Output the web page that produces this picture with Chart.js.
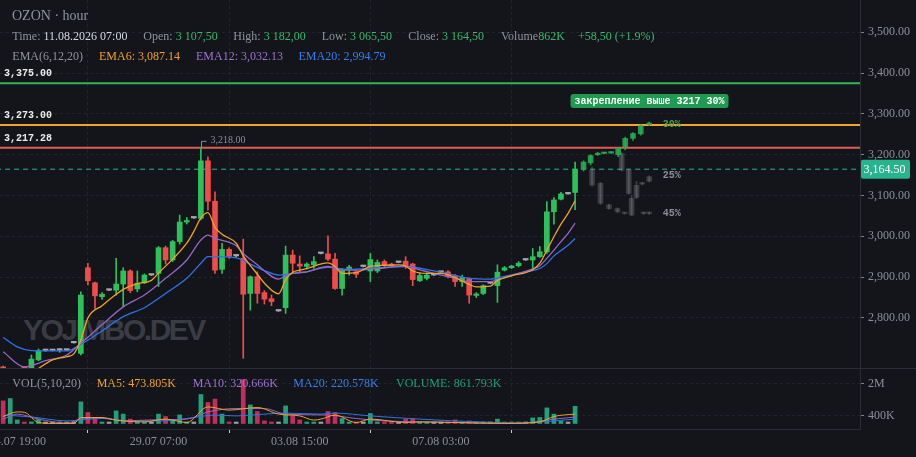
<!DOCTYPE html>
<html><head><meta charset="utf-8">
<script src="https://cdn.jsdelivr.net/npm/chart.js@4.4.1/dist/chart.umd.min.js"></script>
<style>
html,body{margin:0;padding:0;background:#14151a;width:916px;height:457px;overflow:hidden;}
#wrap{position:relative;width:916px;height:457px;}
#wm{position:absolute;left:23px;top:314.6px;font-family:"Liberation Sans",Arial,sans-serif;font-weight:bold;font-size:30px;line-height:30px;color:#3a3c44;letter-spacing:-2.5px;z-index:0;white-space:pre;}
canvas{position:absolute;left:0;top:0;z-index:1;}
.t{position:absolute;white-space:pre;font-family:"Liberation Serif","Times New Roman",serif;font-size:12px;line-height:12px;color:#8f939c;z-index:2;}
.g{color:#36b96e}.w{color:#d5d8df}.o{color:#f0a224}.p{color:#9f72d2}.b{color:#3a7ee8}.v{color:#1f9f75}
</style></head>
<body><div id="wrap">
<div id="wm">YOJIMBO.DEV</div>
<canvas id="c" width="916" height="457"></canvas>
<div class="t" style="left:12px;top:9.3px;font-size:14px;line-height:14px;">OZON · hour</div>
<div class="t" style="left:12.3px;top:30.3px;">Time: <span class="w">11.08.2026 07:00</span></div>
<div class="t" style="left:143.3px;top:30.3px;">Open: <span class="g">3 107,50</span></div>
<div class="t" style="left:233.3px;top:30.3px;">High: <span class="g">3 182,00</span></div>
<div class="t" style="left:321.7px;top:30.3px;">Low: <span class="g">3 065,50</span></div>
<div class="t" style="left:408.3px;top:30.3px;">Close: <span class="g">3 164,50</span></div>
<div class="t" style="left:501px;top:30.3px;">Volume<span class="g">862K</span></div>
<div class="t g" style="left:578px;top:30.3px;">+58,50 (+1.9%)</div>
<div class="t" style="left:12.3px;top:50.4px;">EMA(6,12,20)</div>
<div class="t o" style="left:99px;top:50.4px;">EMA6: 3,087.14</div>
<div class="t p" style="left:196px;top:50.4px;">EMA12: 3,032.13</div>
<div class="t b" style="left:298.5px;top:50.4px;">EMA20: 2,994.79</div>
<div class="t" style="left:12.3px;top:377px;">VOL(5,10,20)</div>
<div class="t o" style="left:96.7px;top:377px;">MA5: 473.805K</div>
<div class="t p" style="left:192.7px;top:377px;">MA10: 320.666K</div>
<div class="t b" style="left:293.3px;top:377px;">MA20: 220.578K</div>
<div class="t v" style="left:396px;top:377px;">VOLUME: 861.793K</div>
</div>
<script>
// ---------- data ----------
const tickIndex  = [2, 22, 42, 62];
const tickLabels = ['24.07 19:00', '29.07 07:00', '03.08 15:00', '07.08 03:00'];
const priceTicks = [2800, 2900, 3000, 3100, 3200, 3300, 3400, 3500];
const volTicks = [400000, 2000000];
const volTickLabels = ['400K', '2M'];

const opens = [2680,2640,2660,2666,2672,2697,2720,2720,2721,2721,2739,2713,2923,2886,2852,2868,2868,2883,2915,2871,
  2886,2905,2909,2972,2942,2987,3035,3045,3044,3185,3086,2919,2968,2952,2946,2860,2901,2862,2847,2817,
  2825,2954,2932,2926,2930,2958,2957,2944,2872,2921,2913,2926,2915,2915,2938,2932,2936,2939,2932,2891,
  2897,2905,2912,2913,2903,2889,2897,2855,2860,2885,2879,2917,2923,2928,2942,2942,2950,2962,3060,3091,
  3104,3107.5];
const highs = [2682,2668,2668,2668,2709,2724,2722,2722,2724,2722,2740,2864,2934,2888,2862,2869,2946,2923,2918,2915,
  2908,2906,2975,2976,2990,3052,3046,3046,3218,3195,3109,2983,2972,2954,2993,2903,2913,2867,2856,2818,
  2976,2966,2952,2935,2950,2959,3001,2958,2921,2929,2916,2927,2958,2942,2942,2934,2937,2950,2934,2910,
  2910,2906,2913,2916,2906,2905,2898,2862,2881,2886,2930,2926,2929,2938,2943,2970,2975,3085,3095,3108,
  3106,3182];
const lows = [2650,2632,2655,2660,2668,2695,2718,2719,2716,2720,2738,2709,2881,2823,2845,2867,2856,2827,2862,2864,
  2884,2904,2877,2932,2938,2981,3030,3044,3040,3064,2909,2909,2946,2950,2701,2819,2836,2834,2830,2816,
  2811,2911,2911,2920,2921,2957,2940,2870,2856,2905,2899,2925,2889,2911,2925,2926,2935,2921,2879,2889,
  2893,2904,2911,2898,2877,2877,2836,2850,2857,2884,2838,2915,2921,2925,2941,2917,2948,2958,3030,3089,
  3103,3065.5];
const closes = [2660,2662,2664,2663,2699,2720,2720,2720,2721,2721,2739,2856,2891,2854,2858,2868,2883,2915,2867,2885,
  2905,2905,2972,2942,2987,3035,3038,3045,3185,3086,2917,2968,2951,2952,2858,2901,2860,2846,2840,2817,
  2954,2934,2927,2932,2938,2958,2944,2872,2917,2923,2907,2926,2943,2936,2930,2928,2936,2927,2894,2904,
  2905,2905,2912,2902,2889,2899,2856,2857,2879,2885,2912,2923,2927,2934,2942,2950,2962,3060,3089,3104,
  3104,3164.5];
// volume, thousands
const volumes = [1130,1250,180,30,80,220,10,10,10,10,10,1080,550,300,50,10,630,470,220,100,
  50,10,470,350,180,430,20,10,1450,1050,1220,470,50,10,2200,930,600,130,30,10,
  880,380,180,50,50,10,600,550,250,30,20,10,500,80,50,20,10,220,250,80,
  10,10,10,80,180,50,130,20,20,10,220,20,20,20,10,280,300,780,470,130,
  20,862];

// indicator lines: [candle index, value]
const ema6 = [[0,2640],[3,2650],[5,2676],[7,2697],[9,2705],[10,2712],[11,2746],[12,2800],[14,2830],[16,2858],[17,2870],
  [19,2884],[21,2892],[22,2910],[24,2944],[26,2983],[27,3012],[28,3045],[29,3058],[30,3022],[31,3005],[33,2983],
  [34,2952],[36,2907],[37,2885],[39,2859],[40,2893],[41,2912],[42,2917],[43,2921],[46,2935],[47,2926],[48,2909],
  [50,2911],[52,2926],[54,2929],[56,2930],[57,2927],[58,2915],[60,2909],[62,2909],[64,2899],[66,2882],[67,2876],
  [69,2878],[70,2892],[72,2903],[75,2918],[76,2934],[77,2966],[78,2999],[79,3030],[80,3056],[81,3087.14]];
const ema12 = [[0,2717],[3,2680],[6,2695],[9,2709],[11,2738],[14,2783],[17,2827],[20,2856],[23,2897],[26,2942],[28,2991],
  [29,3003],[30,2995],[33,2977],[34,2958],[36,2930],[37,2915],[39,2895],[40,2903],[41,2909],[43,2913],[46,2926],
  [48,2917],[50,2917],[53,2921],[57,2927],[59,2918],[61,2909],[64,2897],[66,2889],[69,2889],[71,2899],[73,2909],
  [75,2920],[76,2928],[77,2946],[78,2966],[79,2987],[80,3007],[81,3032.13]];
const ema20 = [[0,2752],[2,2729],[4,2720],[9,2719],[11,2735],[14,2768],[17,2803],[20,2825],[23,2860],[26,2897],[28,2934],
  [29,2950],[30,2950],[33,2947],[35,2932],[37,2916],[39,2905],[41,2909],[43,2913],[46,2924],[49,2919],[53,2923],
  [57,2926],[61,2915],[64,2904],[66,2897],[69,2895],[71,2902],[74,2913],[76,2921],[77,2933],[78,2952],[79,2965],
  [80,2978],[81,2994.79]];
const volMa5 = [[0,350],[2,580],[3,560],[5,50],[7,5],[10,5],[11,300],[14,300],[16,170],[20,80],[23,220],[26,50],
  [29,830],[32,670],[36,800],[39,470],[42,380],[44,170],[45,220],[47,420],[50,50],[52,220],[57,50],[59,80],[64,50],
  [71,5],[76,80],[78,350],[81,473.805]];
const volMa10 = [[0,220],[2,470],[5,220],[9,20],[11,220],[14,270],[17,130],[21,180],[26,220],[29,580],[33,750],[37,750],
  [40,470],[46,420],[50,250],[54,130],[59,80],[68,20],[73,5],[78,220],[81,320.666]];
const volMa20 = [[0,420],[4,330],[9,130],[14,250],[18,130],[23,130],[26,250],[30,420],[33,380],[35,420],[40,520],[45,470],
  [47,520],[52,380],[59,220],[66,100],[73,30],[78,130],[81,220.578]];

// scenario projections drawn after the last candle
const projUpX = [82.2,83.2,84.2,85.1,86.1,87.1,88.1,89.2,90.3,91.5];
const projUpO = [3164.5,3180,3200,3203,3204,3200,3218,3240,3251,3274];
const projUpH = [3185,3200,3206,3206,3207,3218,3243,3254,3273,3280];
const projUpL = [3160,3175,3198,3202,3203,3195,3212,3235,3248,3271];
const projUpC = [3182,3198,3203,3204,3205,3215,3240,3252,3271,3276];
const projDnX = [83.4,84.6,85.8,87.0,87.6,88.0,88.6,89.0,89.7,90.5,90.7,91.5,91.5];
const projDnO = [3162,3130,3077,3068,3203,3056,3162,3093,3095,3128,3056,3135,3056];
const projDnH = [3170,3132,3079,3070,3206,3058,3165,3100,3135,3132,3059,3148,3059];
const projDnL = [3122,3078,3066,3058,3160,3054,3103,3050,3092,3126,3053,3133,3053];
const projDnC = [3126,3081,3068,3060,3162,3056,3105,3052,3125,3131,3056,3146,3056];

const levelValues = [3375, 3273, 3217.28];
const levelLabels = ['3,375.00', '3,273.00', '3,217.28'];
const levelColors = ['#35b35a', '#f2a52a', '#df5b5b'];
const lastPrice = 3164.5;
const scenarioLabels = ['30%', '25%', '45%'];
const scenarioPrices = [3273, 3150, 3055];
const boxText = 'закрепление выше 3217 30%';
const peakIndex = 28;

// ---------- styling ----------
const GREEN = '#2cc15a', RED = '#ef4d4d', DOJI = '#a4a8b0';
const VGREEN = '#23a07a', VRED = '#c22e5c', VDOJI = '#9a9da5';
const AXIS = '#8b8f99', FONT = '"Liberation Serif","Times New Roman",serif';

const idx = opens.map((_, i) => i);
const dir = i => closes[i] > opens[i] ? 1 : (closes[i] < opens[i] ? -1 : 0);
const candleColor = i => dir(i) > 0 ? GREEN : (dir(i) < 0 ? RED : DOJI);
const volColor = i => dir(i) > 0 ? VGREEN : (dir(i) < 0 ? VRED : VDOJI);
const pts = arr => arr.map(([x, y]) => ({x, y}));

const datasets = [];
levelValues.forEach((v, k) => datasets.push({
  type: 'line', data: [{x: -1, y: v}, {x: 130, y: v}], borderColor: levelColors[k], borderWidth: 2,
  pointRadius: 0, yAxisID: 'y', order: 30
}));
datasets.push({type: 'line', data: [{x: -1, y: lastPrice}, {x: 130, y: lastPrice}], borderColor: '#2ab592',
  borderWidth: 1, borderDash: [5, 4], pointRadius: 0, yAxisID: 'y', order: 29});

// gray scenario
datasets.push({type: 'bar', data: projDnX.map((x, k) => ({x, y: [projDnL[k], projDnH[k]]})),
  backgroundColor: 'rgba(150,152,160,0.30)', barThickness: 1, grouped: false, yAxisID: 'y', order: 21});
datasets.push({type: 'bar', data: projDnX.map((x, k) => ({x, y: [projDnO[k], projDnC[k]]})),
  backgroundColor: 'rgba(150,152,160,0.30)', barThickness: 5, minBarLength: 1.5, grouped: false, yAxisID: 'y', order: 20});
// green scenario
datasets.push({type: 'bar', data: projUpX.map((x, k) => ({x, y: [projUpL[k], projUpH[k]]})),
  backgroundColor: 'rgba(40,175,85,0.85)', barThickness: 1, grouped: false, yAxisID: 'y', order: 19});
datasets.push({type: 'bar', data: projUpX.map((x, k) => ({x, y: [projUpO[k], projUpC[k]]})),
  backgroundColor: 'rgba(40,175,85,0.85)', barThickness: 5, minBarLength: 1.5, grouped: false, yAxisID: 'y', order: 18});

// candles
datasets.push({type: 'bar', data: idx.map(i => ({x: i, y: [lows[i], highs[i]]})),
  backgroundColor: c => candleColor(c.dataIndex), barThickness: 1, grouped: false, yAxisID: 'y', order: 12});
datasets.push({type: 'bar', data: idx.map(i => ({x: i, y: [opens[i], closes[i]]})),
  backgroundColor: c => candleColor(c.dataIndex), barThickness: 5, minBarLength: 1.5, grouped: false, yAxisID: 'y', order: 11});

// EMAs
[[ema6, '#f0a224'], [ema12, '#9466c8'], [ema20, '#2f73e6']].forEach(([d, col]) => datasets.push({
  type: 'line', data: pts(d), borderColor: col, borderWidth: 1.3, pointRadius: 0,
  cubicInterpolationMode: 'monotone', yAxisID: 'y', order: 5
}));

// volume
datasets.push({type: 'bar', data: idx.map(i => ({x: i, y: volumes[i] * 1000})),
  backgroundColor: c => volColor(c.dataIndex), barThickness: 4, minBarLength: 1.5, grouped: false, yAxisID: 'yv', order: 13});
[[volMa5, '#f0a224'], [volMa10, '#9466c8'], [volMa20, '#2f73e6']].forEach(([d, col]) => datasets.push({
  type: 'line', data: d.map(([x, y]) => ({x, y: y * 1000})), borderColor: col, borderWidth: 1, pointRadius: 0,
  cubicInterpolationMode: 'monotone', yAxisID: 'yv', order: 4
}));

// ---------- plugins ----------
const paneClip = {
  id: 'paneClip',
  beforeDatasetDraw(chart, args) {
    const s = args.meta.yScale, a = chart.chartArea, ctx = chart.ctx;
    ctx.save(); ctx.beginPath(); ctx.rect(a.left, s.top, a.right - a.left, s.bottom - s.top); ctx.clip();
  },
  afterDatasetDraw(chart) { chart.ctx.restore(); }
};

const overlay = {
  id: 'overlay',
  afterDraw(chart) {
    const {ctx, chartArea: a, scales: {x, y, yv}} = chart;
    ctx.save();
    // pane separator
    ctx.strokeStyle = '#2a2d35'; ctx.lineWidth = 1;
    ctx.beginPath(); ctx.moveTo(0, Math.round(yv.top) + 0.5); ctx.lineTo(chart.width, Math.round(yv.top) + 0.5); ctx.stroke();
    // level labels
    ctx.font = 'bold 10px "Liberation Mono", monospace';
    ctx.fillStyle = '#ececec'; ctx.textBaseline = 'middle'; ctx.textAlign = 'left';
    levelValues.forEach((v, k) => ctx.fillText(levelLabels[k], a.left + 4, y.getPixelForValue(v) - 9.5));
    // scenario percent labels
    scenarioLabels.forEach((t, k) => {
      ctx.fillStyle = k === 0 ? '#4f9f44' : '#8c8f96';
      ctx.fillText(t, x.getPixelForValue(93.4), y.getPixelForValue(scenarioPrices[k]));
    });
    // scenario box
    const bx = x.getPixelForValue(80.35), by = y.getPixelForValue(3331.5);
    const bw = ctx.measureText(boxText).width + 8;
    ctx.fillStyle = '#1f9a50';
    ctx.beginPath(); ctx.roundRect(bx, by - 7, bw, 14, 3); ctx.fill();
    ctx.fillStyle = '#ffffff'; ctx.fillText(boxText, bx + 4, by + 0.5);
    // peak marker
    const px = Math.round(x.getPixelForValue(peakIndex)) + 0.5, py = y.getPixelForValue(highs[peakIndex]);
    ctx.strokeStyle = '#8a8d96'; ctx.lineWidth = 1;
    ctx.beginPath(); ctx.moveTo(px, py); ctx.lineTo(px, py - 6); ctx.lineTo(px + 5, py - 6); ctx.stroke();
    ctx.fillStyle = '#8a8d96'; ctx.font = '10px ' + FONT;
    ctx.fillText(highs[peakIndex].toLocaleString('en-US', {minimumFractionDigits: 2}), px + 9, py - 7);
    // last price badge
    const ly = y.getPixelForValue(lastPrice);
    ctx.fillStyle = '#27b38c';
    ctx.beginPath(); ctx.roundRect(a.right + 1, ly - 9.5, 49, 19, 2); ctx.fill();
    ctx.fillStyle = '#ffffff'; ctx.font = '12px ' + FONT;
    ctx.fillText(lastPrice.toLocaleString('en-US', {minimumFractionDigits: 2}), a.right + 3.5, ly + 0.5);
    ctx.restore();
  }
};

const fmtPrice = v => v.toLocaleString('en-US', {minimumFractionDigits: 2, maximumFractionDigits: 2});

new Chart(document.getElementById('c'), {
  type: 'bar',
  data: {datasets},
  options: {
    responsive: false, animation: false, devicePixelRatio: 1,
    layout: {padding: 0},
    plugins: {legend: {display: false}, tooltip: {enabled: false}},
    scales: {
      x: {
        type: 'linear', min: -0.45, max: 121.35, offset: false,
        afterBuildTicks: s => { s.ticks = tickIndex.map(v => ({value: v})); },
        afterFit: s => { s.height = 28; s.paddingLeft = 0; s.paddingRight = 0; },
        ticks: {color: AXIS, font: {family: FONT, size: 12}, padding: 2, autoSkip: false, maxRotation: 0,
          callback: v => { const k = tickIndex.indexOf(v); return k >= 0 ? tickLabels[k] : ''; }},
        grid: {color: '#22242b', tickColor: '#c9ccd3', tickLength: 4, tickBorderDash: [1, 0]},
        border: {color: '#2a2d35', dash: [3, 3]}
      },
      y: {
        type: 'linear', position: 'right', stack: 'r', stackWeight: 368, min: 2677.2, max: 3579.2,
        afterBuildTicks: s => { s.ticks = priceTicks.map(v => ({value: v})); },
        afterFit: s => { s.width = 56; s.paddingTop = 0; s.paddingBottom = 0; },
        ticks: {color: AXIS, font: {family: FONT, size: 12}, padding: 4, callback: v => fmtPrice(v)},
        grid: {color: '#22242b', tickColor: '#7d808a', tickLength: 4, tickBorderDash: [1, 0]},
        border: {color: '#2a2d35', dash: [3, 3]}
      },
      yv: {
        type: 'linear', position: 'right', stack: 'r', stackWeight: 61, min: -275000, max: 2775000,
        afterBuildTicks: s => { s.ticks = volTicks.map(v => ({value: v})); },
        afterFit: s => { s.width = 56; s.paddingTop = 0; s.paddingBottom = 0; },
        ticks: {color: AXIS, font: {family: FONT, size: 12}, padding: 4,
          callback: v => { const k = volTicks.indexOf(v); return k >= 0 ? volTickLabels[k] : ''; }},
        grid: {color: '#22242b', tickColor: '#7d808a', tickLength: 4, tickBorderDash: [1, 0]},
        border: {color: '#2a2d35', dash: [3, 3]}
      }
    }
  },
  plugins: [paneClip, overlay]
});
</script>
</body></html>
